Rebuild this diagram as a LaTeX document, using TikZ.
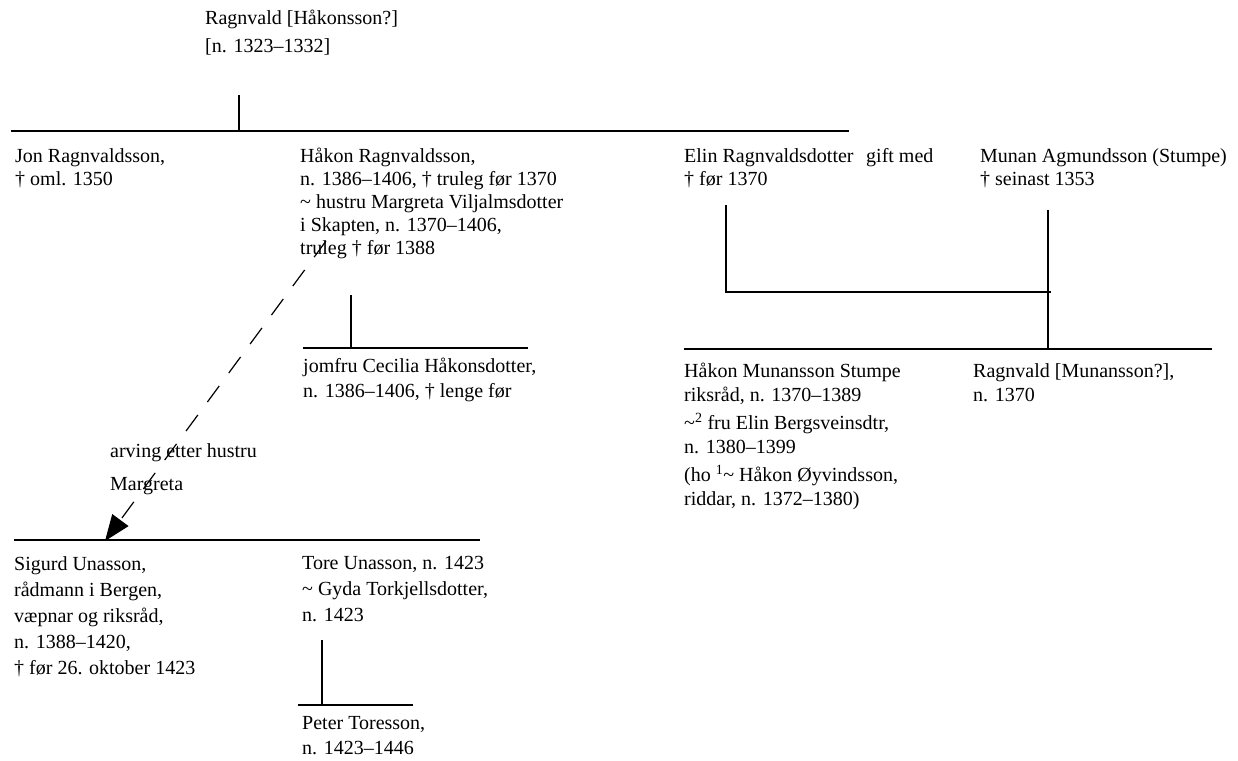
\documentclass[tikz,border=0pt]{standalone}
\usepackage{fontspec}
\setmainfont{Liberation Serif}
\usetikzlibrary{arrows.meta}

\begin{document}
\begin{tikzpicture}[x=1pt, y=-1pt,
    person/.style={anchor=north west, inner sep=0pt, align=left,
                   font=\fontsize{20}{23}\selectfont},
    line/.style={line width=2pt},
    arv/.style={-{Triangle[length=26pt, width=20pt]}, line width=1.2pt,
                dash pattern=on 20pt off 16pt}]
    \useasboundingbox (0,0) rectangle (1238,760);

    % persons (top of first line = baseline - 14)
    \node[person, font=\fontsize{20}{28}\selectfont] (ragnvald) at (205,10)
        {Ragnvald [Håkonsson?]\\{[}n. 1323–1332]};
    \node[person] (jon) at (15,148) {Jon Ragnvaldsson,\\† oml. 1350};
    \node[person] (haakon) at (300,148) {Håkon Ragnvaldsson,\\n. 1386–1406, † truleg før 1370\\
        \textasciitilde{} hustru Margreta Viljalmsdotter\\i Skapten, n. 1370–1406,\\truleg † før 1388};
    \node[person] (elin) at (684,148) {Elin Ragnvaldsdotter\\† før 1370};
    \node[person] (gift) at (866,148) {gift med};
    \node[person] (munan) at (980,148) {Munan Agmundsson (Stumpe)\\† seinast 1353};
    \node[person, font=\fontsize{20}{25}\selectfont] (cecilia) at (303,358)
        {jomfru Cecilia Håkonsdotter,\\n. 1386–1406, † lenge før};
    \node[person, font=\fontsize{20}{24}\selectfont] (stumpe) at (684,363)
        {Håkon Munansson Stumpe\\riksråd, n. 1370–1389\\[4pt]
        \textasciitilde\textsuperscript{2} fru Elin Bergsveinsdtr,\\n. 1380–1399\\[4pt]
        (ho \textsuperscript{1}\textasciitilde{} Håkon Øyvindsson,\\riddar, n. 1372–1380)};
    \node[person, font=\fontsize{20}{24}\selectfont] (ragnvaldm) at (973,363)
        {Ragnvald [Munansson?],\\n. 1370};
    \node[person, font=\fontsize{20}{33}\selectfont] (arving) at (110,443)
        {arving etter hustru\\Margreta};
    \node[person, font=\fontsize{20}{26}\selectfont] (sigurd) at (14,556)
        {Sigurd Unasson,\\rådmann i Bergen,\\væpnar og riksråd,\\n. 1388–1420,\\† før 26. oktober 1423};
    \node[person, font=\fontsize{20}{26}\selectfont] (tore) at (302,556)
        {Tore Unasson, n. 1423\\\textasciitilde{} Gyda Torkjellsdotter,\\n. 1423};
    \node[person, font=\fontsize{20}{25}\selectfont] (peter) at (302,716)
        {Peter Toresson,\\n. 1423–1446};

    % tree lines
    \coordinate (r-down) at (239,95);
    \coordinate (r-bar) at (239,131);
    \coordinate (bar1l) at (11,131);
    \coordinate (bar1r) at (849,131);
    \coordinate (e-down) at (726,205);
    \coordinate (e-bar) at (726,292);
    \coordinate (m-down) at (1048,210);
    \coordinate (m-join) at (1051,292);
    \coordinate (m-bar) at (1048,349);
    \coordinate (bar2l) at (684,349);
    \coordinate (bar2r) at (1212,349);
    \coordinate (h-down) at (351,295);
    \coordinate (h-bar) at (351,348);
    \coordinate (bar3l) at (303,348);
    \coordinate (bar3r) at (528,348);
    \coordinate (bar4l) at (14,540);
    \coordinate (bar4r) at (480,540);
    \coordinate (t-down) at (322,640);
    \coordinate (t-bar) at (322,705);
    \coordinate (bar5l) at (298,705);
    \coordinate (bar5r) at (413,705);
    \coordinate (arvstart) at (326,241);
    \coordinate (arvend) at (105,541);

    \draw[line] (r-down) -- (r-bar);
    \draw[line] (bar1l) -- (bar1r);
    \draw[line] (e-down) -- (e-bar) -- (m-join);
    \draw[line] (m-down) -- (m-bar);
    \draw[line] (bar2l) -- (bar2r);
    \draw[line] (h-down) -- (h-bar);
    \draw[line] (bar3l) -- (bar3r);
    \draw[line] (bar4l) -- (bar4r);
    \draw[line] (t-down) -- (t-bar);
    \draw[line] (bar5l) -- (bar5r);
    \draw[arv] (arvstart) -- (arvend);
\end{tikzpicture}
\end{document}
